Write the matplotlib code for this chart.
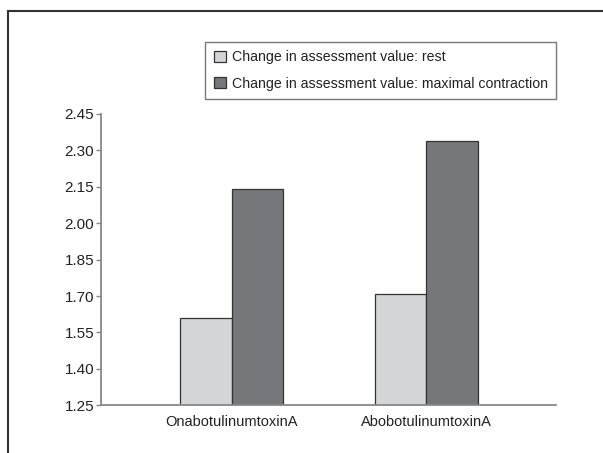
import matplotlib
matplotlib.use("Agg")
import matplotlib.pyplot as plt
from matplotlib.lines import Line2D
import numpy as np

categories = ["OnabotulinumtoxinA", "AbobotulinumtoxinA"]
series_names = ["Change in assessment value: rest",
                "Change in assessment value: maximal contraction"]
rest_values = [1.61, 1.71]
contraction_values = [2.14, 2.34]
yticks = [1.25, 1.40, 1.55, 1.70, 1.85, 2.00, 2.15, 2.30, 2.45]

plt.rcParams['font.family'] = ['Liberation Sans', 'DejaVu Sans']

fig = plt.figure(figsize=(6.03, 4.53), dpi=100)
W, H = 603, 453
ax = fig.add_axes([101 / W, 1 - 405.3 / H, (556 - 101) / W, (405.3 - 114) / H])

x = np.arange(len(categories))
bw = 0.264
ax.bar(x - bw / 2, np.array(rest_values) - 1.25, bw, bottom=1.25, color="#d4d5d7",
       edgecolor="#333333", linewidth=0.9, label=series_names[0], zorder=2)
ax.bar(x + bw / 2, np.array(contraction_values) - 1.25, bw, bottom=1.25, color="#76777b",
       edgecolor="#333333", linewidth=0.9, label=series_names[1], zorder=2)

ax.set_xlim(-0.67, 1.666)
ax.set_ylim(1.25, 2.45)
ax.set_yticks(yticks)
ax.set_yticklabels([f"{v:.2f}" for v in yticks])
ax.set_xticks(x)
ax.set_xticklabels(categories)

for s in ["top", "right"]:
    ax.spines[s].set_visible(False)
for s in ["left", "bottom"]:
    ax.spines[s].set_color("#888888")
    ax.spines[s].set_linewidth(1.3)
    ax.spines[s].set_zorder(3)

ax.tick_params(axis="y", direction="out", length=3.5, width=1.0, color="#888888",
               labelsize=11, labelcolor="#222222", pad=1.5)
ax.tick_params(axis="x", length=0, labelsize=10.5, labelcolor="#222222", pad=7)

leg = fig.legend(loc="upper left", bbox_to_anchor=(205 / W, 1 - 42 / H),
                 fontsize=10.2, frameon=True, fancybox=False, borderaxespad=0,
                 handlelength=0.85, handleheight=0.85, handletextpad=0.45,
                 borderpad=0.6, labelspacing=0.85)
leg.get_frame().set_edgecolor("#555555")
leg.get_frame().set_linewidth(1.0)
for t in leg.get_texts():
    t.set_color("#222222")

# figure frame (left and top)
fig.add_artist(Line2D([8 / W, 8 / W], [0, 1 - 11 / H], transform=fig.transFigure,
                      color="#333333", linewidth=1.5))
fig.add_artist(Line2D([8 / W, 1], [1 - 11 / H, 1 - 11 / H], transform=fig.transFigure,
                      color="#333333", linewidth=1.5))

fig.savefig("out.png", dpi=100)
